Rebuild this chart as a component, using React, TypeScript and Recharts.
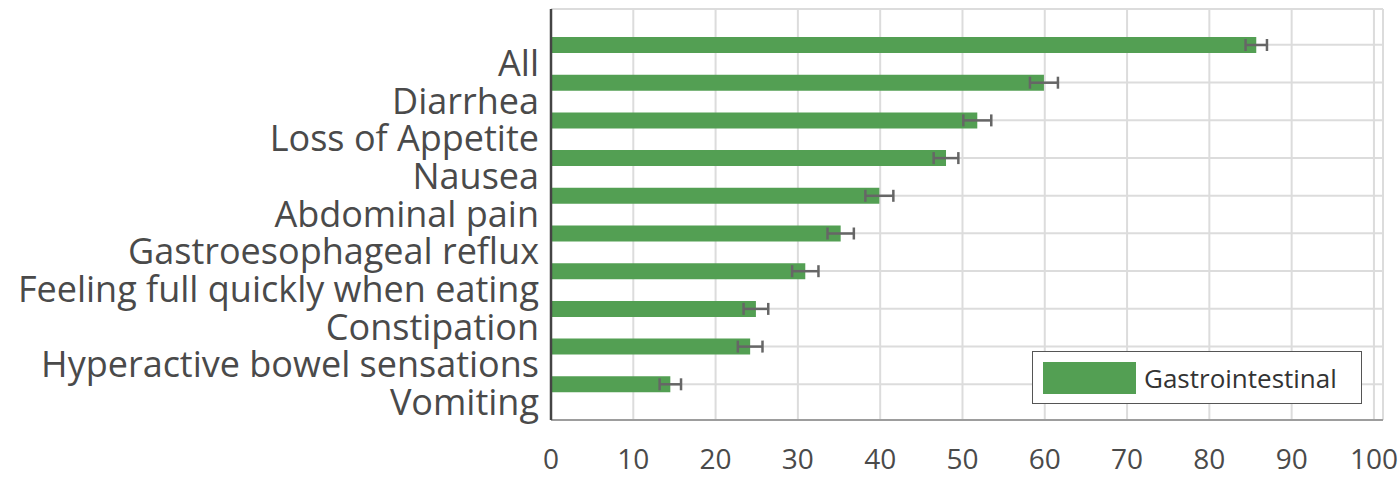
import { BarChart, Bar, XAxis, YAxis, CartesianGrid, ErrorBar } from "recharts";

const CATEGORIES = [
  "All",
  "Diarrhea",
  "Loss of Appetite",
  "Nausea",
  "Abdominal pain",
  "Gastroesophageal reflux",
  "Feeling full quickly when eating",
  "Constipation",
  "Hyperactive bowel sensations",
  "Vomiting",
];
const VALUES = [85.7, 59.9, 51.8, 48.0, 39.9, 35.2, 30.9, 24.9, 24.2, 14.5];
const ERRORS = [1.3, 1.7, 1.7, 1.5, 1.7, 1.6, 1.6, 1.5, 1.5, 1.3];
const X_TICKS = [0, 10, 20, 30, 40, 50, 60, 70, 80, 90, 100];
const SERIES_NAME = "Gastrointestinal";

const GREEN = "#539f53";
const FONT = "'Open Sans', sans-serif";

const data = CATEGORIES.map((name, i) => ({ name, value: VALUES[i], err: ERRORS[i] }));

function CategoryTick(props: any) {
  const { y, payload } = props;
  return (
    <text x={539} y={y + 31} textAnchor="end" fontFamily={FONT} fontSize={36} fill="#4a4a4a">
      {payload.value}
    </text>
  );
}

function ValueTick(props: any) {
  const { x, payload } = props;
  return (
    <text x={x} y={469} textAnchor="middle" fontFamily={FONT} fontSize={28} fill="#4a4a4a">
      {payload.value}
    </text>
  );
}

function LegendBox() {
  return (
    <div
      style={{
        position: "absolute",
        left: 1032,
        top: 351,
        width: 328,
        height: 51,
        border: "1.5px solid #555",
        background: "#fff",
        display: "flex",
        alignItems: "center",
        fontFamily: FONT,
        fontSize: 26,
        color: "#333",
      }}
    >
      <div style={{ width: 93, height: 32, background: GREEN, marginLeft: 10, marginRight: 8 }} />
      <span>{SERIES_NAME}</span>
    </div>
  );
}

export default function App() {
  return (
    <div style={{ position: "absolute", left: 0, top: 0, width: 1399, height: 477, background: "#fff" }}>
      <BarChart
        width={1399}
        height={477}
        data={data}
        layout="vertical"
        margin={{ top: 9, right: 16, bottom: 0, left: 0 }}
      >
        <CartesianGrid stroke="#dcdcdc" strokeWidth={2} />
        <XAxis
          type="number"
          domain={[0, 101.1]}
          ticks={X_TICKS}
          tickLine={false}
          axisLine={{ stroke: "#888", strokeWidth: 1.5 }}
          tick={<ValueTick />}
          height={57}
          interval={0}
        />
        <YAxis
          type="category"
          dataKey="name"
          width={551}
          padding={{ top: 17, bottom: 17 }}
          tickLine={false}
          axisLine={{ stroke: "#444", strokeWidth: 2.5 }}
          tick={<CategoryTick />}
          interval={0}
        />
        <Bar dataKey="value" name={SERIES_NAME} fill={GREEN} barSize={16} isAnimationActive={false}>
          <ErrorBar dataKey="err" direction="x" width={6} stroke="#666" strokeWidth={2.5} />
        </Bar>
      </BarChart>
      <LegendBox />
    </div>
  );
}
